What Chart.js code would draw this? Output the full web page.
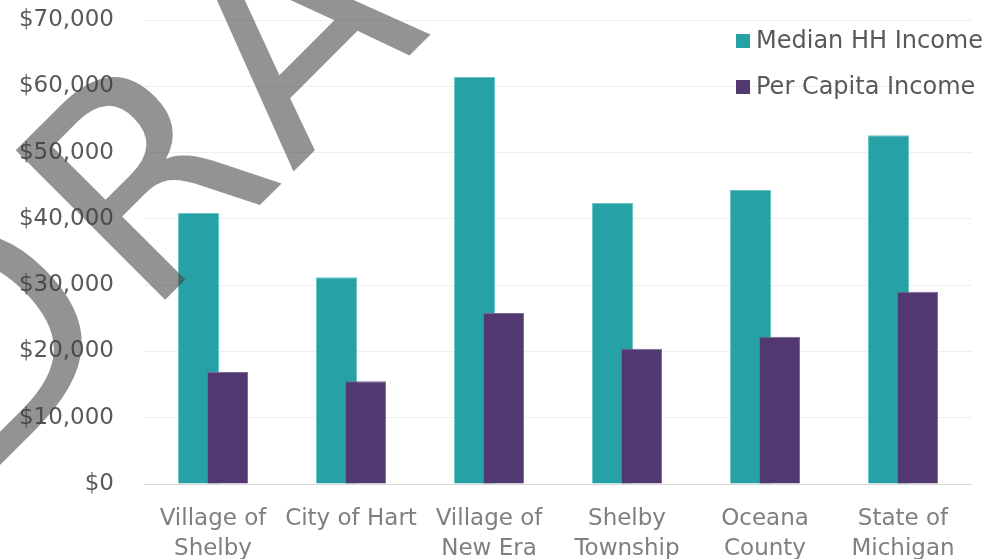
<!DOCTYPE html>
<html>
<head>
<meta charset="utf-8">
<script src="https://cdn.jsdelivr.net/npm/chart.js@4"></script>
<style>
  html, body { margin: 0; padding: 0; background: #fff; }
  #wrap { width: 992px; height: 559px; }
</style>
</head>
<body>
<div id="wrap"><canvas id="bar-chart"></canvas></div>
<script>
const categories = [
  ["Village of", "Shelby"],
  ["City of Hart"],
  ["Village of", "New Era"],
  ["Shelby", "Township"],
  ["Oceana", "County"],
  ["State of", "Michigan"],
];
const medianHH = [40900, 31200, 61400, 42400, 44350, 52600];
const perCapita = [16900, 15500, 25800, 20400, 22200, 29000];
const yTickLabels = ["$0", "$10,000", "$20,000", "$30,000", "$40,000", "$50,000", "$60,000", "$70,000"];

const FONT = "'DejaVu Sans', sans-serif";

// draw datasets in ascending order so the second bar sits on top of the first
const drawOrder = {
  id: "drawOrder",
  beforeDatasetsDraw(chart) {
    chart.getSortedVisibleDatasetMetas().forEach((m) => m.controller.draw());
    return false;
  },
};

const legendBox = {
  id: "legendBox",
  afterDraw(chart) {
    const ctx = chart.ctx;
    ctx.save();
    ctx.font = "24px " + FONT;
    ctx.textBaseline = "middle";
    chart.data.datasets.forEach((ds, i) => {
      const y = 41 + i * 46;
      ctx.fillStyle = ds.backgroundColor;
      ctx.fillRect(736, y - 7, 14, 14);
      ctx.fillStyle = "#595959";
      ctx.fillText(ds.label, 756, y + 1);
    });
    ctx.restore();
  },
};

const watermark = {
  id: "watermark",
  afterDraw(chart) {
    const ctx = chart.ctx;
    ctx.save();
    ctx.translate(232.5, 232.5);
    ctx.rotate(-Math.PI / 4);
    ctx.font = "290px " + FONT;
    ctx.letterSpacing = "18px";
    ctx.textBaseline = "alphabetic";
    ctx.fillStyle = "rgba(64,64,64,0.565)";
    ctx.fillText("DRAFT", -365, 0);
    ctx.restore();
  },
};

new Chart(document.getElementById("bar-chart"), {
  type: "bar",
  data: {
    labels: categories,
    datasets: [
      {
        label: "Median HH Income",
        data: medianHH,
        backgroundColor: "#26A1A5",
        borderColor: "#6cc2c4",
        borderWidth: 1,
      },
      {
        label: "Per Capita Income",
        data: perCapita,
        backgroundColor: "#523870",
        borderColor: "#7a6894",
        borderWidth: 1,
      },
    ],
  },
  plugins: [drawOrder, legendBox, watermark],
  options: {
    responsive: true,
    maintainAspectRatio: false,
    animation: false,
    layout: { padding: { top: 20, right: 20, bottom: 0, left: 0 } },
    datasets: {
      bar: { categoryPercentage: 0.42, barPercentage: 1.414 },
    },
    plugins: {
      legend: { display: false },
      tooltip: { enabled: false },
    },
    scales: {
      x: {
        grid: { display: false, drawTicks: false },
        border: { display: false },
        ticks: {
          color: "#7f7f7f",
          font: { family: FONT, size: 23, lineHeight: 1.3 },
          padding: 20,
          maxRotation: 0,
          autoSkip: false,
        },
        afterFit(s) { s.height = 75; },
      },
      y: {
        min: 0,
        max: 70000,
        grid: {
          drawTicks: true,
          tickLength: 30,
          tickColor: "rgba(0,0,0,0)",
          lineWidth: 1,
          color: (c) => (c.tick && c.tick.value === 0 ? "#d9d9d9" : "#eeeeee"),
        },
        border: { display: false },
        ticks: {
          stepSize: 10000,
          color: "#595959",
          font: { family: FONT, size: 23 },
          padding: 0,
          callback: (v, i) => yTickLabels[i],
        },
        afterFit(s) { s.width = 144; },
      },
    },
  },
});
</script>
</body>
</html>
